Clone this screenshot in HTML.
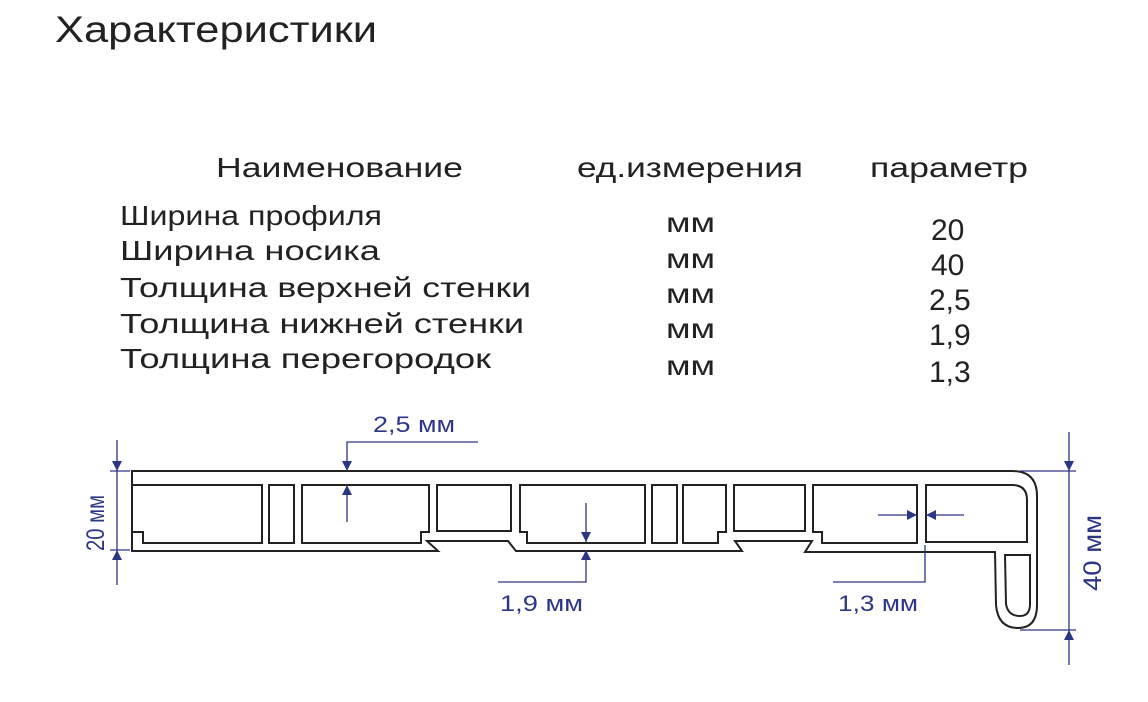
<!DOCTYPE html>
<html><head><meta charset="utf-8"><style>
html,body{margin:0;padding:0;background:#fff;width:1148px;height:702px;overflow:hidden}
svg{display:block}
text{font-family:"Liberation Sans","DejaVu Sans",sans-serif}
.t{fill:#222;font-size:28px}
.d{fill:#2d3585;font-size:22px}
.p{fill:none;stroke:#222;stroke-width:2}
.l{fill:none;stroke:#2d3585;stroke-width:1.3}
.a{fill:#2d3585}
</style></head><body>
<svg width="1148" height="702" viewBox="0 0 1148 702">
<text x="55" y="42" style="fill:#222;font-size:37px" textLength="322" lengthAdjust="spacingAndGlyphs">Характеристики</text>
<text class="t" x="216" y="177" textLength="247" lengthAdjust="spacingAndGlyphs">Наименование</text>
<text class="t" x="577" y="177" textLength="226" lengthAdjust="spacingAndGlyphs">ед.измерения</text>
<text class="t" x="870" y="177" textLength="158" lengthAdjust="spacingAndGlyphs">параметр</text>
<text class="t" x="120" y="225" textLength="262" lengthAdjust="spacingAndGlyphs">Ширина профиля</text>
<text class="t" x="120" y="260" textLength="260" lengthAdjust="spacingAndGlyphs">Ширина носика</text>
<text class="t" x="120" y="297" textLength="411" lengthAdjust="spacingAndGlyphs">Толщина верхней стенки</text>
<text class="t" x="120" y="333" textLength="404" lengthAdjust="spacingAndGlyphs">Толщина нижней стенки</text>
<text class="t" x="120" y="368" textLength="371" lengthAdjust="spacingAndGlyphs">Толщина перегородок</text>
<g class="t"><text x="666" y="232" textLength="49" lengthAdjust="spacingAndGlyphs">мм</text><text x="666" y="268" textLength="49" lengthAdjust="spacingAndGlyphs">мм</text><text x="666" y="303" textLength="49" lengthAdjust="spacingAndGlyphs">мм</text><text x="666" y="338" textLength="49" lengthAdjust="spacingAndGlyphs">мм</text><text x="666" y="375" textLength="49" lengthAdjust="spacingAndGlyphs">мм</text></g>
<g class="t" style="font-size:30px"><text x="931" y="240">20</text><text x="931" y="275">40</text><text x="929" y="310">2,5</text><text x="929" y="345">1,9</text><text x="929" y="382">1,3</text></g>

<path class="p" d="M132,471 L1012,471 Q1037,471 1037,496 L1037,605 Q1037,628 1018,628 Q998,628 996,605 L995,552 L805,552 L812,541 L735,541 L742,551 L516,551 L508,541 L427,541 L438,551 L132,551 Z"/>
<path class="p" d="M132,485 L262,485 L262,543 L143,543 L143,532 L132,532 Z"/>
<rect class="p" x="269" y="485" width="25" height="58"/>
<path class="p" d="M302,485 L429,485 L429,532 L421,532 L421,543 L302,543 Z"/>
<rect class="p" x="437" y="485" width="74" height="46"/>
<path class="p" d="M520,485 L645,485 L645,543 L527,543 L527,532 L520,532 Z"/>
<rect class="p" x="652" y="485" width="25" height="58"/>
<path class="p" d="M683,485 L726,485 L726,532 L718,532 L718,543 L683,543 Z"/>
<rect class="p" x="734" y="485" width="71" height="46"/>
<path class="p" d="M813,485 L917,485 L917,543 L822,543 L822,532 L813,532 Z"/>
<path class="p" d="M926,485 L1012,485 Q1027,485 1027,500 L1027,542 L926,542 Z"/>
<path class="p" d="M1005,555 L1030,555 L1030,604 Q1030,616 1020,616 Q1008,616 1006,604 Z"/>

<line class="l" x1="117" y1="440" x2="117" y2="585"/>
<line class="l" x1="110" y1="471" x2="130" y2="471"/>
<line class="l" x1="110" y1="550" x2="130" y2="550"/>
<path class="a" d="M112,461 L122,461 L117,471 Z M112,560 L122,560 L117,550 Z"/>
<text class="d" style="font-size:25px" transform="translate(104,551) rotate(-90)" textLength="56" lengthAdjust="spacingAndGlyphs">20 мм</text>

<line class="l" x1="1069" y1="432" x2="1069" y2="665"/>
<line class="l" x1="1020" y1="471" x2="1076" y2="471"/>
<line class="l" x1="1020" y1="630" x2="1076" y2="630"/>
<path class="a" d="M1064,461 L1074,461 L1069,471 Z M1064,640 L1074,640 L1069,630 Z"/>
<text class="d" style="font-size:25px" transform="translate(1101,591) rotate(-90)" textLength="76" lengthAdjust="spacingAndGlyphs">40 мм</text>

<text class="d" x="373" y="432" textLength="82" lengthAdjust="spacingAndGlyphs">2,5 мм</text>
<polyline class="l" points="478,442 347,442 347,471"/>
<line class="l" x1="347" y1="485" x2="347" y2="522"/>
<path class="a" d="M342,461 L352,461 L347,471 Z M342,495 L352,495 L347,485 Z"/>

<line class="l" x1="586" y1="503" x2="586" y2="542"/>
<polyline class="l" points="586,550 586,582 498,582"/>
<path class="a" d="M581,532 L591,532 L586,542 Z M581,560 L591,560 L586,550 Z"/>
<text class="d" x="500" y="611" textLength="83" lengthAdjust="spacingAndGlyphs">1,9 мм</text>

<line class="l" x1="878" y1="515" x2="917" y2="515"/>
<line class="l" x1="926" y1="515" x2="964" y2="515"/>
<path class="a" d="M907,510 L917,515 L907,520 Z M936,510 L926,515 L936,520 Z"/>
<polyline class="l" points="925,545 925,582 833,582"/>
<text class="d" x="838" y="611" textLength="80" lengthAdjust="spacingAndGlyphs">1,3 мм</text>
</svg>
</body></html>
